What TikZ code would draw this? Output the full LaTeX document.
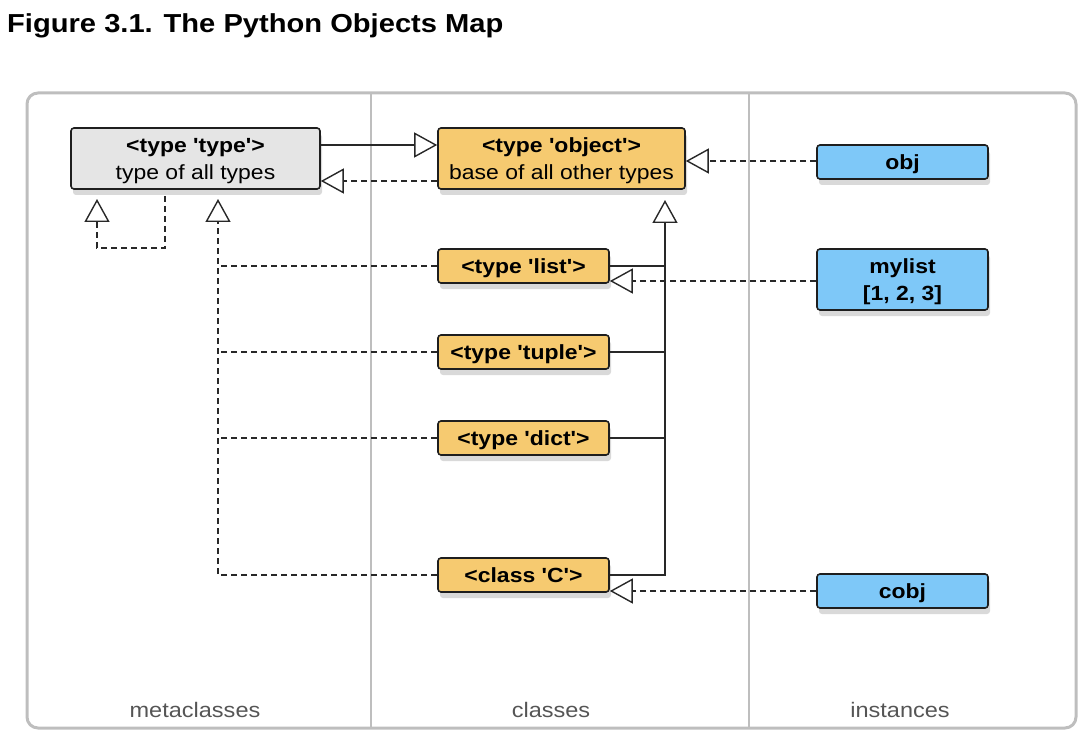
\documentclass[tikz,border=0pt]{standalone}
\usepackage{fontspec}
\newfontfamily\lsans{Liberation Sans}[FakeStretch=1.12]
\usetikzlibrary{arrows.meta,shadows}
\definecolor{typegray}{RGB}{229,229,229}
\definecolor{objorange}{RGB}{246,202,112}
\definecolor{instblue}{RGB}{126,200,248}
\definecolor{edge}{RGB}{30,30,30}
\definecolor{framegray}{RGB}{190,190,190}
\definecolor{labelgray}{RGB}{85,85,85}
\definecolor{linegray}{RGB}{40,40,40}
\tikzset{
  box/.style={draw=edge, line width=1.6pt, rounded corners=3pt, inner sep=0pt,
    align=center, text=black, font=\lsans\fontsize{20.5}{27}\selectfont,
    text depth=0pt,
    drop shadow={shadow xshift=2pt, shadow yshift=-6pt, opacity=.3}},
  metabox/.style={box, fill=typegray},
  classbox/.style={box, fill=objorange},
  instbox/.style={box, fill=instblue},
  wide/.style={minimum width=249pt, minimum height=61pt},
  narrow/.style={minimum width=171pt, minimum height=34pt},
  tall/.style={minimum width=171pt, minimum height=61pt},
  dashline/.style={draw=linegray, line width=1.4pt, dash pattern=on 6pt off 4pt},
  solidline/.style={draw=linegray, line width=1.4pt},
  openarrow/.style={-{Triangle[open, length=23pt, width=25pt, line width=1.4pt]}},
  collabel/.style={font=\lsans\fontsize{21}{24}\selectfont, text=labelgray, anchor=base},
}
\begin{document}
\begin{tikzpicture}[x=1pt,y=-1pt]
\useasboundingbox (0,0) rectangle (1090,738);
% title
\node[anchor=base west, inner sep=0pt, font=\lsans\bfseries\fontsize{26}{30}\selectfont] (title) at (7,33) {Figure 3.1. The Python Objects Map};
% frame and columns
\draw[framegray, line width=3pt, rounded corners=11pt] (27,93) rectangle (1076,728);
\draw[framegray, line width=2pt] (371,94) -- (371,727);
\draw[framegray, line width=2pt] (749,94) -- (749,727);
\node[collabel] (lmeta) at (195,717) {metaclasses};
\node[collabel] (lclass) at (551,717) {classes};
\node[collabel] (linst) at (900,717) {instances};
% nodes
\node[metabox, wide] (type) at (195.5,158.5) {\textbf{<type 'type'>}\\type of all types};
\node[classbox, wide, minimum width=247pt] (object) at (561.5,158.5) {\textbf{<type 'object'>}\\base of all other types};
\node[classbox, narrow] (list) at (523.5,266) {\textbf{<type 'list'>}};
\node[classbox, narrow] (tuple) at (523.5,352) {\textbf{<type 'tuple'>}};
\node[classbox, narrow] (dict) at (523.5,438) {\textbf{<type 'dict'>}};
\node[classbox, narrow] (C) at (523.5,575) {\textbf{<class 'C'>}};
\node[instbox, narrow] (obj) at (902.5,162) {\textbf{obj}};
\node[instbox, tall] (mylist) at (902.5,279.5) {\textbf{mylist}\\\textbf{[1, 2, 3]}};
\node[instbox, narrow] (cobj) at (902.5,591) {\textbf{cobj}};
% junction coordinates
\coordinate (tmeta) at (218,189);
\coordinate (tself) at (97,189);
\coordinate (sself) at (165,189);
\coordinate (tobj) at (665,189);
\coordinate (jl) at (218,266);
\coordinate (jt) at (218,352);
\coordinate (jd) at (218,438);
\coordinate (kl) at (665,266);
\coordinate (kt) at (665,352);
\coordinate (kd) at (665,438);
% type <-> object
\draw[solidline, openarrow] (type.east |- 0,145) -- (object.west |- 0,145);
\draw[dashline, openarrow] (object.west |- 0,181) -- (type.east |- 0,181);
\draw[dashline, openarrow] (obj.west |- 0,161) -- (object.east |- 0,161);
% type self loop
\draw[dashline, openarrow, shorten <=7pt, shorten >=10pt] (sself) -- ++(0,59) -| (tself);
% metaclass links
\draw[dashline] (list.west) -- (jl);
\draw[dashline] (tuple.west) -- (jt);
\draw[dashline] (dict.west) -- (jd);
\draw[dashline, openarrow, shorten >=10pt] (C.west) -| (tmeta);
% class hierarchy
\draw[solidline] (list.east) -- (kl);
\draw[solidline] (tuple.east) -- (kt);
\draw[solidline] (dict.east) -- (kd);
\draw[solidline, openarrow, shorten >=11pt] (C.east) -| (tobj);
% instances
\draw[dashline, openarrow] (mylist.west |- 0,281) -- (list.east |- 0,281);
\draw[dashline, openarrow] (cobj.west) -- (C.east |- cobj.west);
\end{tikzpicture}
\end{document}
